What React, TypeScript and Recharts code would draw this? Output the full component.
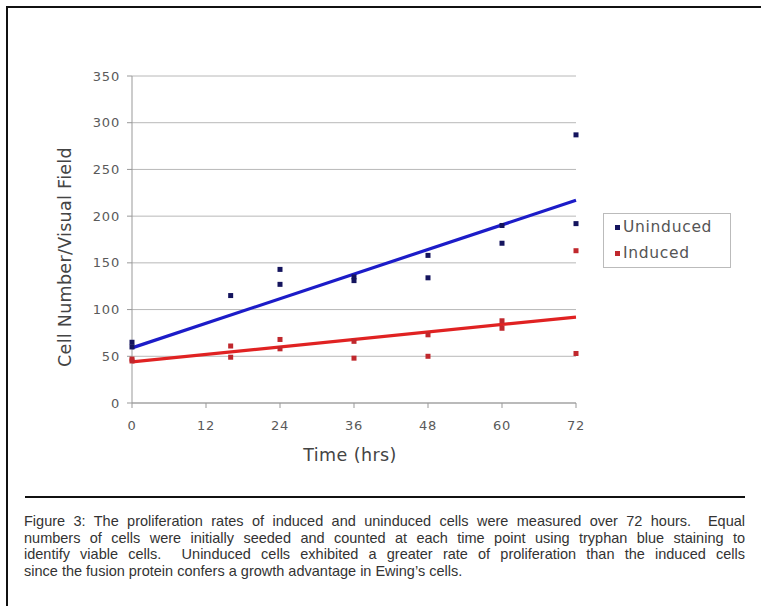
import React from "react";
import {
  ComposedChart,
  Scatter,
  Line,
  XAxis,
  YAxis,
  CartesianGrid,
} from "recharts";

// Sampling times (hrs) and cell counts per visual field
const uninducedHours = [0, 0, 16, 24, 24, 36, 36, 48, 48, 60, 60, 72, 72];
const uninducedCells = [65, 60, 115, 143, 127, 135, 131, 158, 134, 190, 171, 287, 192];

const inducedHours = [0, 0, 16, 16, 24, 24, 36, 36, 48, 48, 60, 60, 72, 72];
const inducedCells = [47, 45, 61, 49, 68, 58, 66, 48, 73, 50, 88, 80, 163, 53];

// Linear trend lines, end points
const trendHours = [0, 72];
const uninducedTrend = [59, 217];
const inducedTrend = [44, 92];

const xTicks = [0, 12, 24, 36, 48, 60, 72];
const yTicks = [0, 50, 100, 150, 200, 250, 300, 350];

const seriesNames = ["Uninduced", "Induced"];

const captionLines = [
  "Figure 3: The proliferation rates of induced and uninduced cells were measured over 72 hours.  Equal",
  "numbers of cells were initially seeded and counted at each time point using tryphan blue staining to",
  "identify viable cells.  Uninduced cells exhibited a greater rate of proliferation than the induced cells",
  "since the fusion protein confers a growth advantage in Ewing\u2019s cells.",
];

const toPoints = (xs: number[], ys: number[]) => xs.map((x, i) => ({ x, y: ys[i] }));

const uninducedPts = toPoints(uninducedHours, uninducedCells);
const inducedPts = toPoints(inducedHours, inducedCells);
const uninducedLine = toPoints(trendHours, uninducedTrend);
const inducedLine = toPoints(trendHours, inducedTrend);

const NAVY = "#14145e";
const BLUE = "#1c1cc8";
const MAROON = "#c0282d";
const RED = "#e02222";

const squareShape = (color: string) => (props: any) => {
  const { cx, cy } = props;
  if (cx == null || cy == null) return <g />;
  return <rect x={cx - 2.5} y={cy - 2.5} width={5} height={5} fill={color} />;
};

const FONT = "'DejaVu Sans', Verdana, sans-serif";

const tickFont = {
  fontFamily: FONT,
  fontSize: 13,
  fill: "#5a5a5a",
  letterSpacing: 0.8,
};

export default function App() {
  return (
    <div
      style={{
        position: "absolute",
        left: 0,
        top: 0,
        width: 761,
        height: 606,
        background: "#fff",
        overflow: "hidden",
      }}
    >
      {/* frame */}
      <div
        style={{
          position: "absolute",
          left: 6,
          top: 6,
          width: 761,
          height: 620,
          borderTop: "2px solid #111",
          borderLeft: "2px solid #111",
        }}
      />

      <div style={{ position: "absolute", left: 0, top: 0 }}>
        <ComposedChart
          width={761}
          height={490}
          margin={{ top: 76, right: 185, bottom: 47, left: 0 }}
        >
          <CartesianGrid vertical={false} stroke="#b8b8b8" strokeWidth={1} />
          <XAxis
            type="number"
            dataKey="x"
            domain={[0, 72]}
            ticks={xTicks}
            allowDuplicatedCategory={false}
            height={40}
            stroke="#999"
            tickSize={5}
            tickMargin={13}
            tick={tickFont}
          />
          <YAxis
            type="number"
            dataKey="y"
            domain={[0, 350]}
            ticks={yTicks}
            width={132}
            stroke="#999"
            tickSize={5}
            tickMargin={7}
            tick={tickFont}
          />
          <Line
            data={inducedLine}
            dataKey="y"
            stroke={RED}
            strokeWidth={3.2}
            dot={false}
            isAnimationActive={false}
            legendType="none"
          />
          <Line
            data={uninducedLine}
            dataKey="y"
            stroke={BLUE}
            strokeWidth={3.2}
            dot={false}
            isAnimationActive={false}
            legendType="none"
          />
          <Scatter
            name={seriesNames[0]}
            data={uninducedPts}
            fill={NAVY}
            shape={squareShape(NAVY)}
            isAnimationActive={false}
          />
          <Scatter
            name={seriesNames[1]}
            data={inducedPts}
            fill={MAROON}
            shape={squareShape(MAROON)}
            isAnimationActive={false}
          />
        </ComposedChart>
      </div>

      {/* y-axis title */}
      <div
        style={{
          position: "absolute",
          left: 65,
          top: 257,
          transform: "translate(-50%, -50%) rotate(-90deg)",
          whiteSpace: "nowrap",
          fontFamily: FONT,
          fontSize: 17.5,
          letterSpacing: 0.3,
          color: "#444",
        }}
      >
        Cell Number/Visual Field
      </div>

      {/* x-axis title */}
      <div
        style={{
          position: "absolute",
          left: 350,
          top: 455,
          transform: "translate(-50%, -50%)",
          whiteSpace: "nowrap",
          fontFamily: FONT,
          fontSize: 17.5,
          letterSpacing: 0.4,
          color: "#444",
        }}
      >
        Time (hrs)
      </div>

      {/* legend */}
      <div
        style={{
          position: "absolute",
          left: 603,
          top: 213,
          width: 126,
          height: 53,
          border: "1px solid #bbb",
          fontFamily: FONT,
          fontSize: 15.5,
          letterSpacing: 0.7,
          color: "#555",
        }}
      >
        {[NAVY, MAROON].map((c, i) => (
          <div
            key={seriesNames[i]}
            style={{
              position: "absolute",
              left: 11,
              top: 3 + i * 26,
              display: "flex",
              alignItems: "center",
              height: 20,
              whiteSpace: "nowrap",
            }}
          >
            <span
              style={{
                display: "inline-block",
                width: 5,
                height: 5,
                background: c,
                marginRight: 3,
              }}
            />
            <span>{seriesNames[i]}</span>
          </div>
        ))}
      </div>

      {/* separator */}
      <div
        style={{
          position: "absolute",
          left: 25,
          top: 496,
          width: 720,
          height: 2,
          background: "#111",
        }}
      />

      {/* caption */}
      <div
        style={{
          position: "absolute",
          left: 24,
          top: 513,
          width: 721,
          fontFamily: "'Liberation Sans', Arial, sans-serif",
          fontSize: 14.5,
          lineHeight: "16.5px",
          color: "#333",
        }}
      >
        {captionLines.map((line, i) => (
          <div
            key={i}
            style={{
              whiteSpace: "pre",
              textAlign: i < captionLines.length - 1 ? "justify" : "left",
              textAlignLast: i < captionLines.length - 1 ? "justify" : "left",
            }}
          >
            {line}
          </div>
        ))}
      </div>
    </div>
  );
}
